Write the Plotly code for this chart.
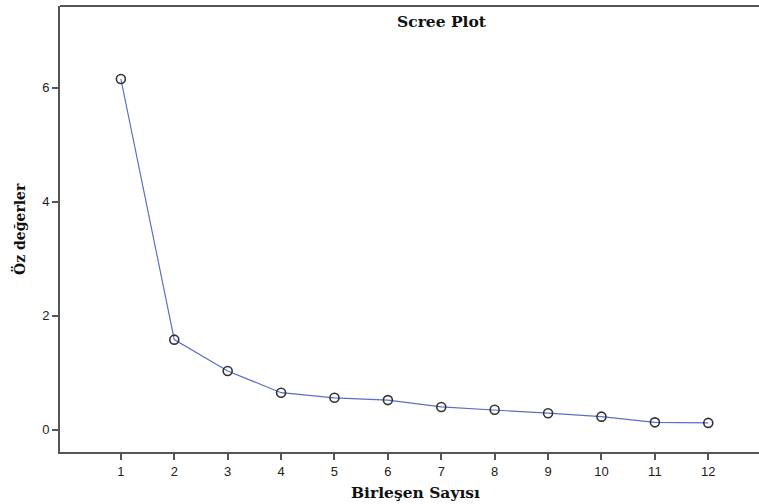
import plotly.graph_objects as go

components = [1, 2, 3, 4, 5, 6, 7, 8, 9, 10, 11, 12]
eigenvalues = [6.15, 1.58, 1.03, 0.65, 0.56, 0.52, 0.40, 0.35, 0.29, 0.23, 0.13, 0.12]
y_ticks = [0, 2, 4, 6]

fig = go.Figure()
fig.add_trace(go.Scatter(
    x=components, y=eigenvalues, mode="lines+markers",
    line=dict(color="#5a6fc8", width=1.2),
    marker=dict(symbol="circle-open", size=9, color="#333333", line=dict(width=1.6, color="#333333")),
    showlegend=False, cliponaxis=False,
))

axis_color = "#555555"
title_font = dict(family="DejaVu Serif, Liberation Serif, serif", size=15.5, color="#111111")
ytitle_font = dict(family="DejaVu Serif, Liberation Serif, serif", size=14, color="#111111")
fig.update_layout(
    width=759, height=504,
    margin=dict(l=60, r=0, t=6, b=52),
    paper_bgcolor="white", plot_bgcolor="white",
    xaxis=dict(range=[-0.14, 12.95], tickvals=components, ticktext=[str(c) for c in components],
               showgrid=False, zeroline=False, showline=True, linecolor=axis_color, linewidth=2,
               ticks="outside", ticklen=6, tickwidth=2, tickcolor=axis_color,
               tickfont=dict(family="Liberation Sans, Arial, sans-serif", size=13, color="#222222"),
               mirror=False),
    yaxis=dict(range=[-0.39, 7.43], tickvals=y_ticks, ticktext=[str(t) for t in y_ticks],
               showgrid=False, zeroline=False, showline=True, linecolor=axis_color, linewidth=2,
               ticks="outside", ticklen=6, tickwidth=2, tickcolor=axis_color,
               tickfont=dict(family="Liberation Sans, Arial, sans-serif", size=13, color="#222222")),
    shapes=[dict(type="line", xref="paper", yref="paper", x0=0, x1=1, y0=1, y1=1,
                 line=dict(color=axis_color, width=2))],
    annotations=[
        dict(text="<b>Scree Plot</b>", xref="paper", yref="paper", x=0.546, y=(504-22-52)/446,
             showarrow=False, xanchor="center", yanchor="middle", font=title_font),
        dict(text="<b>Birleşen Sayısı</b>", xref="paper", yref="paper", x=0.509, y=(504-492-52)/446,
             showarrow=False, xanchor="center", yanchor="middle", font=title_font),
        dict(text="<b>Öz değerler</b>", xref="paper", yref="paper", x=(19-60)/699, y=0.5,
             showarrow=False, xanchor="center", yanchor="middle", textangle=-90, font=ytitle_font),
    ],
)

fig.write_html("out.html", config={"displayModeBar": False},
               post_script="document.body.style.margin='0';")
